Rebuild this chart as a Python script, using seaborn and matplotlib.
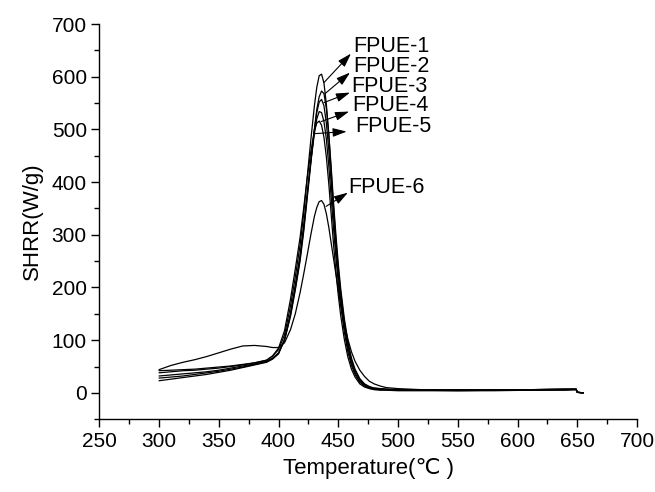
import numpy as np
import pandas as pd
import matplotlib
matplotlib.use("Agg")
import matplotlib.pyplot as plt
from matplotlib.ticker import MultipleLocator
import seaborn as sns

# ---- data ----
temperature = [300, 310, 320, 330, 340, 350, 360, 370, 380, 390, 395, 400, 405, 410,
               414, 418, 421, 424, 427, 430, 432, 434, 436, 438, 440, 442, 444, 446,
               448, 450, 452, 455, 458, 461, 464, 468, 472, 476, 480, 485, 490, 500,
               520, 550, 580, 610, 640, 649, 650, 655]

fpue1 = [38, 40, 42, 43, 45, 47, 50, 53, 57, 62, 70, 82, 110, 165, 220, 280, 340, 410,
         480, 545, 580, 602, 605, 588, 548, 492, 422, 352, 290, 235, 190, 135, 92, 62,
         42, 25, 16, 11, 9, 8, 7, 6, 5, 5, 5, 6, 7, 7, 1, 0]
fpue2 = [32, 34, 36, 38, 40, 43, 47, 51, 55, 60, 66, 76, 100, 145, 195, 250, 305, 370,
         435, 500, 538, 562, 573, 568, 540, 492, 430, 362, 300, 245, 198, 142, 98, 66,
         45, 27, 17, 12, 9, 8, 7, 6, 5, 5, 5, 6, 7, 7, 1, 0]
fpue3 = [28, 30, 32, 35, 38, 41, 45, 49, 54, 59, 65, 75, 100, 148, 198, 255, 310, 375,
         440, 500, 532, 552, 557, 545, 512, 462, 400, 335, 275, 222, 178, 125, 85, 57,
         38, 22, 14, 10, 8, 7, 6, 5, 5, 5, 5, 6, 6, 7, 1, 0]
fpue4 = [23, 26, 29, 32, 35, 39, 43, 48, 53, 58, 64, 74, 102, 152, 205, 262, 318, 380,
         440, 492, 520, 534, 532, 515, 482, 432, 372, 312, 258, 208, 166, 116, 78, 52,
         35, 20, 13, 9, 7, 6, 6, 5, 5, 4, 5, 5, 6, 6, 1, 0]
fpue5 = [42, 43, 44, 45, 47, 49, 51, 54, 57, 62, 70, 85, 118, 178, 235, 295, 350, 408,
         458, 498, 512, 516, 508, 485, 448, 398, 340, 282, 230, 185, 147, 102, 68, 45,
         30, 17, 11, 8, 6, 5, 5, 4, 4, 4, 4, 5, 5, 6, 1, 0]
fpue6 = [44, 52, 58, 63, 69, 76, 83, 89, 90, 88, 86, 86, 95, 120, 150, 190, 225, 262,
         300, 335, 352, 363, 365, 358, 340, 315, 285, 255, 225, 195, 168, 132, 102, 78,
         60, 43, 31, 22, 17, 13, 10, 8, 6, 6, 6, 6, 7, 7, 1, 0]

series_names = ["FPUE-1", "FPUE-2", "FPUE-3", "FPUE-4", "FPUE-5", "FPUE-6"]
series_values = [fpue1, fpue2, fpue3, fpue4, fpue5, fpue6]

# annotation anchors: (curve point, arrow tip near text, text start)
arrow_tail = [(438, 589), (438.9, 568), (438, 551), (435.6, 515), (429.7, 492), (439.8, 354)]
arrow_tip = [(460.6, 644), (459.8, 608), (459.8, 570), (459, 534), (457, 496), (458, 380)]
text_pos = [(462.5, 658), (462.5, 619), (461, 581), (462, 545), (464.5, 505), (458.5, 390)]

x_ticks = [250, 300, 350, 400, 450, 500, 550, 600, 650, 700]
y_ticks = [0, 100, 200, 300, 400, 500, 600, 700]

# ---- build long table ----
df = pd.concat(
    [pd.DataFrame({"Temperature": temperature, "SHRR": vals, "sample": name})
     for name, vals in zip(series_names, series_values)],
    ignore_index=True,
)

sns.set_style("ticks")
plt.rcParams["font.family"] = ["Liberation Sans", "DejaVu Sans"]

fig = plt.figure(figsize=(6.55, 4.92), dpi=100)
ax = fig.add_axes([0.1516, 0.148, 0.821, 0.803])

sns.lineplot(data=df, x="Temperature", y="SHRR", hue="sample",
             palette=["black"] * len(series_names), linewidth=0.9,
             legend=False, ax=ax, estimator=None, sort=False)

ax.set_xlim(250, 700)
ax.set_ylim(-50, 700)
ax.set_xticks(x_ticks)
ax.set_yticks(y_ticks)
ax.xaxis.set_minor_locator(MultipleLocator(25))
ax.yaxis.set_minor_locator(MultipleLocator(50))
ax.tick_params(which="major", direction="out", length=6, width=1, labelsize=15,
               color="black", labelcolor="black", pad=3)
ax.tick_params(which="minor", direction="out", length=3.5, width=1, color="black")
for s in ["top", "right"]:
    ax.spines[s].set_visible(False)
for s in ["left", "bottom"]:
    ax.spines[s].set_color("black")
    ax.spines[s].set_linewidth(1)

ax.set_xlabel("Temperature(\u2103 )", fontsize=16, labelpad=5, color="black")
ax.set_ylabel("SHRR(W/g)", fontsize=16, labelpad=6, color="black")

for name, tail, tip, tp in zip(series_names, arrow_tail, arrow_tip, text_pos):
    ax.annotate("", xy=tip, xytext=tail,
                arrowprops=dict(arrowstyle="-|>,head_length=0.7,head_width=0.22",
                                color="black", lw=0.8, mutation_scale=12,
                                shrinkA=0, shrinkB=0))
    ax.text(tp[0], tp[1], name, fontsize=15.5, ha="left", va="center", color="black")

fig.savefig("out.png", dpi=100)
